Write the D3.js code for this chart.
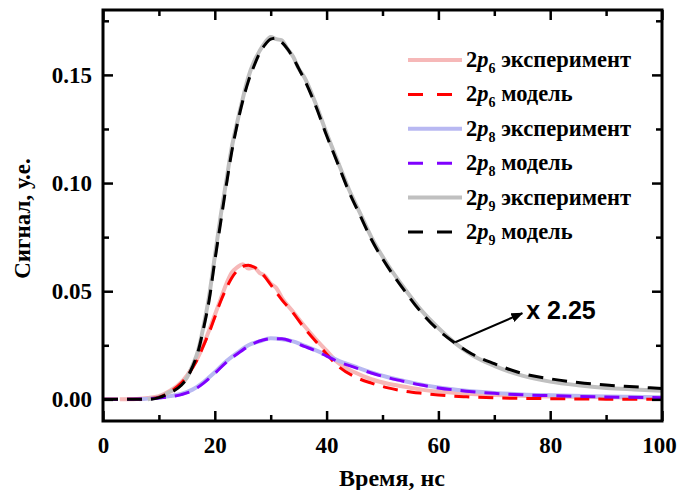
<!DOCTYPE html>
<html>
<head>
<meta charset="utf-8">
<script src="https://cdn.jsdelivr.net/npm/d3@7"></script>
<style>
  body { margin: 0; background: #fff; }
  svg text { font-family: "Liberation Serif", "Times New Roman", serif; font-weight: bold; }
</style>
</head>
<body>
<script>
// 2p6: experiment and model
const p6ExpT = [3, 6, 8, 10, 12, 14, 15, 16, 17, 18, 19, 20, 21, 22, 23, 24, 25, 26, 27, 28, 29, 30, 31, 32, 34, 36, 38, 40, 42, 45, 48, 51, 54, 57, 60, 65, 70, 80, 90, 100];
const p6ExpV = [0, 0.0002, 0.0006, 0.0015, 0.004, 0.008, 0.011, 0.015, 0.0195, 0.0255, 0.032, 0.039, 0.046, 0.053, 0.0585, 0.061, 0.0625, 0.0605, 0.061, 0.0585, 0.057, 0.0535, 0.0515, 0.047, 0.0405, 0.034, 0.028, 0.0225, 0.017, 0.0125, 0.0093, 0.0072, 0.0058, 0.0045, 0.0036, 0.0026, 0.002, 0.0013, 0.001, 0.0008];
const p6ModT = [0, 6, 8, 10, 12, 14, 15, 16, 17, 18, 19, 20, 21, 22, 23, 24, 25, 26, 27, 28, 29, 30, 32, 34, 36, 38, 40, 42, 45, 48, 51, 54, 57, 60, 65, 70, 80, 90, 100];
const p6ModV = [0, 0, 0.0003, 0.001, 0.0035, 0.0075, 0.0105, 0.0145, 0.019, 0.025, 0.031, 0.038, 0.045, 0.051, 0.056, 0.0595, 0.0615, 0.062, 0.0612, 0.0595, 0.0565, 0.053, 0.046, 0.040, 0.033, 0.027, 0.021, 0.0155, 0.0105, 0.0075, 0.0053, 0.0038, 0.0028, 0.002, 0.0012, 0.0007, 0.0003, 0.0001, 0];

// 2p8: experiment and model
const p8ExpT = [6.5, 10, 12, 14, 16, 18, 20, 22, 24, 26, 28, 30, 32, 34, 36, 38, 40, 42, 45, 48, 51, 54, 57, 60, 65, 70, 75, 80, 90, 100];
const p8ExpV = [0, 0.0008, 0.0015, 0.0025, 0.0045, 0.008, 0.0125, 0.0175, 0.0215, 0.025, 0.0268, 0.0282, 0.0278, 0.0268, 0.0248, 0.0228, 0.0205, 0.018, 0.0152, 0.0125, 0.0102, 0.0084, 0.0068, 0.0055, 0.004, 0.003, 0.0023, 0.0019, 0.0013, 0.001];
const p8ModT = [0, 8, 10, 12, 14, 16, 18, 20, 22, 24, 26, 28, 30, 32, 34, 36, 38, 40, 42, 45, 48, 51, 54, 57, 60, 65, 70, 75, 80, 90, 100];
const p8ModV = [0, 0.0002, 0.0006, 0.0012, 0.0022, 0.004, 0.0075, 0.012, 0.017, 0.021, 0.0245, 0.027, 0.028, 0.028, 0.0265, 0.0245, 0.0225, 0.020, 0.0175, 0.0148, 0.0122, 0.010, 0.0082, 0.0066, 0.0053, 0.0038, 0.0028, 0.0021, 0.0017, 0.0011, 0.0008];

// 2p9 (x 2.25): experiment and model
const p9ExpT = [8, 10, 12, 14, 15, 16, 17, 18, 19, 20, 21, 22, 23, 24, 25, 26, 27, 28, 29, 30, 31, 32, 33, 34, 35, 36, 38, 40, 42, 44, 46, 48, 51, 54, 57, 60, 63, 66, 70, 75, 80, 85, 90, 95, 100];
const p9ExpV = [0, 0.0012, 0.0035, 0.007, 0.010, 0.0155, 0.0225, 0.034, 0.048, 0.066, 0.084, 0.100, 0.116, 0.128, 0.139, 0.149, 0.156, 0.161, 0.165, 0.1675, 0.1665, 0.166, 0.162, 0.1585, 0.153, 0.149, 0.137, 0.123, 0.110, 0.097, 0.086, 0.075, 0.062, 0.051, 0.041, 0.033, 0.026, 0.0205, 0.0155, 0.011, 0.0082, 0.0065, 0.0053, 0.0046, 0.004];
const p9ModT = [0, 8, 10, 12, 14, 15, 16, 17, 18, 19, 20, 21, 22, 23, 24, 25, 26, 27, 28, 29, 30, 31, 32, 33, 34, 35, 36, 38, 40, 42, 44, 46, 48, 51, 54, 57, 60, 63, 66, 70, 75, 80, 85, 90, 95, 100];
const p9ModV = [0, 0, 0.0008, 0.003, 0.0065, 0.0097, 0.015, 0.022, 0.033, 0.046, 0.064, 0.081, 0.098, 0.114, 0.127, 0.138, 0.147, 0.154, 0.160, 0.164, 0.1665, 0.167, 0.165, 0.162, 0.158, 0.153, 0.148, 0.136, 0.122, 0.109, 0.096, 0.085, 0.074, 0.061, 0.050, 0.040, 0.032, 0.026, 0.021, 0.0165, 0.012, 0.0095, 0.0078, 0.0066, 0.0058, 0.005];

const xTicks = [0, 20, 40, 60, 80, 100];
const xMinor = [10, 30, 50, 70, 90];
const yTicks = [0, 0.05, 0.10, 0.15];
const yMinor = [0.025, 0.075, 0.125, 0.175];

const legendNames = ['6', '6', '8', '8', '9', '9'];
const legendKinds = ['эксперимент', 'модель', 'эксперимент', 'модель', 'эксперимент', 'модель'];

// annotation: arrow from the 2p9 curve to the factor label
const arrowFrom = [63, 0.0264];
const arrowTo = [75, 0.0398];
const factorLabel = 'x 2.25';

const W = 678, H = 490;
const m = { left: 103, right: 16, top: 10, bottom: 69 };

const svg = d3.select('body').append('svg')
    .attr('width', W)
    .attr('height', H);

const x = d3.scaleLinear().domain([0, 100]).range([m.left, W - m.right]);
const y = d3.scaleLinear().domain([-0.01, 0.18]).range([H - m.bottom, m.top]);

const series = [
    { t: p6ExpT, v: p6ExpV, color: '#f6b8b8', width: 4, dash: null },
    { t: p8ExpT, v: p8ExpV, color: '#b8b8f2', width: 4, dash: null },
    { t: p9ExpT, v: p9ExpV, color: '#c0c0c0', width: 4, dash: null },
    { t: p6ModT, v: p6ModV, color: '#ff0000', width: 3, dash: '15,9' },
    { t: p8ModT, v: p8ModV, color: '#7f00ff', width: 3, dash: '15,9' },
    { t: p9ModT, v: p9ModV, color: '#000000', width: 3, dash: '15,9' },
];

const line = d3.line()
    .x((d) => x(d[0]))
    .y((d) => y(d[1]))
    .curve(d3.curveMonotoneX);

series.forEach((s) => {
    svg.append('path')
        .datum(s.t.map((t, i) => [t, s.v[i]]))
        .attr('fill', 'none')
        .attr('stroke', s.color)
        .attr('stroke-width', s.width)
        .attr('stroke-dasharray', s.dash)
        .attr('d', line);
});

// axes: ticks point inward on all four sides
function styleAxis(g) {
    g.select('.domain').remove();
    g.selectAll('line').attr('stroke', '#000').attr('stroke-width', 2.5);
    g.selectAll('text').attr('fill', '#000').style('font-size', '23px')
        .style('font-family', '"Liberation Serif", serif').style('font-weight', 'bold');
}

svg.append('g')
    .attr('transform', `translate(0,${H - m.bottom})`)
    .call(d3.axisBottom(x).tickValues(xTicks).tickSize(-10).tickPadding(16).tickFormat(d3.format('d')))
    .call(styleAxis)
    .selectAll('text')
    .attr('dx', (d) => (d === 100 ? -3 : 0));
svg.append('g')
    .attr('transform', `translate(0,${H - m.bottom})`)
    .call(d3.axisBottom(x).tickValues(xMinor).tickSize(-6).tickFormat(''))
    .call(styleAxis);
svg.append('g')
    .attr('transform', `translate(0,${m.top})`)
    .call(d3.axisTop(x).tickValues(xTicks).tickSize(-10).tickFormat(''))
    .call(styleAxis);
svg.append('g')
    .attr('transform', `translate(0,${m.top})`)
    .call(d3.axisTop(x).tickValues(xMinor).tickSize(-6).tickFormat(''))
    .call(styleAxis);

svg.append('g')
    .attr('transform', `translate(${m.left},0)`)
    .call(d3.axisLeft(y).tickValues(yTicks).tickSize(-10).tickPadding(11).tickFormat(d3.format('.2f')))
    .call(styleAxis);
svg.append('g')
    .attr('transform', `translate(${m.left},0)`)
    .call(d3.axisLeft(y).tickValues(yMinor).tickSize(-6).tickFormat(''))
    .call(styleAxis);
svg.append('g')
    .attr('transform', `translate(${W - m.right},0)`)
    .call(d3.axisRight(y).tickValues(yTicks).tickSize(-10).tickFormat(''))
    .call(styleAxis);
svg.append('g')
    .attr('transform', `translate(${W - m.right},0)`)
    .call(d3.axisRight(y).tickValues(yMinor).tickSize(-6).tickFormat(''))
    .call(styleAxis);

// frame
svg.append('rect')
    .attr('x', m.left)
    .attr('y', m.top)
    .attr('width', W - m.left - m.right)
    .attr('height', H - m.top - m.bottom)
    .attr('fill', 'none')
    .attr('stroke', '#000')
    .attr('stroke-width', 3);

// axis titles
svg.append('text')
    .attr('x', 392)
    .attr('y', 486)
    .attr('text-anchor', 'middle')
    .style('font-size', '24px')
    .text('Время, нс');

svg.append('text')
    .attr('transform', `translate(30,${(m.top + H - m.bottom) / 2 + 3}) rotate(-90)`)
    .attr('text-anchor', 'middle')
    .style('font-size', '23px')
    .text('Сигнал, у.е.');

// legend
const legend = svg.append('g').attr('transform', 'translate(408,60)');
const legendOrder = [0, 3, 1, 4, 2, 5];
legendOrder.forEach((si, i) => {
    const s = series[si];
    const row = legend.append('g').attr('transform', `translate(0,${i * 34.4})`);
    row.append('line')
        .attr('x1', 0).attr('x2', 54)
        .attr('stroke', s.color)
        .attr('stroke-width', s.width)
        .attr('stroke-dasharray', s.dash ? '15,14' : null);
    const txt = row.append('text')
        .attr('x', 58)
        .attr('y', 7)
        .style('font-size', '22.5px');
    txt.append('tspan').text('2');
    txt.append('tspan').style('font-style', 'italic').text('p');
    txt.append('tspan').attr('dy', 6).style('font-size', '14px').text(legendNames[i]);
    txt.append('tspan').attr('dy', -6).text(' ' + legendKinds[i]);
});

// arrow annotation
svg.append('defs').append('marker')
    .attr('id', 'head')
    .attr('viewBox', '0 0 10 10')
    .attr('refX', 9).attr('refY', 5)
    .attr('markerWidth', 6).attr('markerHeight', 6)
    .attr('markerUnits', 'strokeWidth')
    .attr('orient', 'auto')
    .append('path')
    .attr('d', 'M0,1 L10,5 L0,9 Z')
    .attr('fill', '#000');

svg.append('line')
    .attr('x1', x(arrowFrom[0])).attr('y1', y(arrowFrom[1]))
    .attr('x2', x(arrowTo[0])).attr('y2', y(arrowTo[1]))
    .attr('stroke', '#000')
    .attr('stroke-width', 2)
    .attr('marker-end', 'url(#head)');

svg.append('text')
    .attr('x', x(arrowTo[0]) + 4)
    .attr('y', y(arrowTo[1]) + 6)
    .style('font-family', '"Liberation Sans", Arial, sans-serif')
    .style('font-size', '25px')
    .text(factorLabel);
</script>
</body>
</html>
